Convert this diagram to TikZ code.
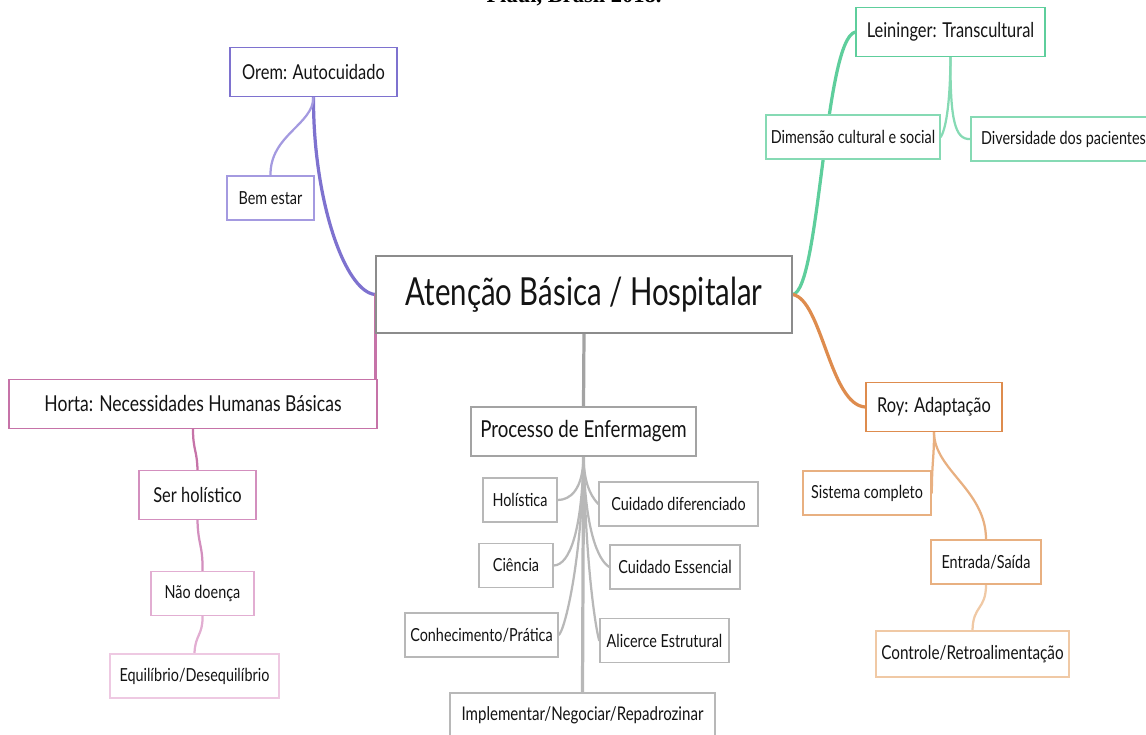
\documentclass[tikz,border=0pt]{standalone}
\usepackage{fontspec}
\setmainfont[FakeStretch=0.8]{Lato}
\newfontfamily\rootfont[FakeStretch=0.76]{Lato}
\newfontfamily\capfont{Liberation Serif}
\usetikzlibrary{backgrounds}

\definecolor{purpA}{HTML}{7E72CF}
\definecolor{purpB}{HTML}{A49AE0}
\definecolor{greenA}{HTML}{5ECE9C}
\definecolor{greenB}{HTML}{86DAB4}
\definecolor{orangeA}{HTML}{DE8C4E}
\definecolor{orangeB}{HTML}{E8B081}
\definecolor{orangeC}{HTML}{F0C9A5}
\definecolor{pinkA}{HTML}{C673A8}
\definecolor{pinkB}{HTML}{D38FBE}
\definecolor{pinkC}{HTML}{E2AED2}
\definecolor{pinkD}{HTML}{EEC9E2}
\definecolor{greyA}{HTML}{8C8C8C}
\definecolor{greyB}{HTML}{A3A3A3}
\definecolor{greyC}{HTML}{B8B8B8}

\tikzset{
  box/.style={draw, fill=white, line width=1.1pt, inner sep=0pt, text=black!92},
  root/.style={box, draw=greyA, font=\rootfont\fontsize{27.5}{30}\selectfont,
    minimum width=10.4cm, minimum height=1.925cm},
  topic/.style={box, font=\fontsize{14.6}{17}\selectfont, minimum height=1.22cm},
  leaf/.style={box, font=\fontsize{12.8}{15}\selectfont, minimum height=1.1cm},
  mainline/.style={line width=2.3pt, line cap=round},
  subline/.style={line width=1.6pt, line cap=round}
}

\begin{document}
\begin{tikzpicture}[x=0.025cm,y=-0.025cm]

  \useasboundingbox (0,0) rectangle (1146,735);

  % caption line cut by the top edge
  \node[anchor=base, font=\capfont\bfseries\fontsize{16}{18}\selectfont] (cap) at (574,3) {Piauí, Brasil 2018.};

  % centre
  \node[root] (cen) at (584,294.5) {Atenção Básica / Hospitalar};

  % Orem
  \node[topic, draw=purpA, minimum width=4.175cm] (orem) at (313.5,72) {Orem: Autocuidado};
  \node[leaf, draw=purpB, minimum width=2.175cm] (bem) at (270.5,198) {Bem estar};

  % Leininger
  \node[topic, draw=greenA, minimum width=4.725cm] (lein) at (950.5,32) {Leininger: Transcultural};
  \node[leaf, draw=greenB, minimum width=4.35cm] (dim) at (853,137) {Dimensão cultural e social};
  \node[leaf, draw=greenB, minimum width=4.625cm] (div) at (1063.5,139) {Diversidade dos pacientes};

  % Horta
  \node[topic, draw=pinkA, minimum width=9.2cm, font=\fontsize{15.6}{18}\selectfont] (horta) at (193,404) {Horta: Necessidades Humanas Básicas};
  \node[topic, draw=pinkB, minimum width=2.925cm] (ser) at (197.5,495) {Ser holístico};
  \node[leaf, draw=pinkC, minimum width=2.575cm] (nao) at (202.5,593.5) {Não doença};
  \node[leaf, draw=pinkD, minimum width=4.225cm] (equ) at (194.5,676) {Equilíbrio/Desequilíbrio};

  % Processo
  \node[topic, draw=greyB, minimum width=5.625cm, font=\fontsize{16.6}{19}\selectfont] (proc) at (583.5,431.5) {Processo de Enfermagem};
  \node[leaf, draw=greyC, minimum width=1.85cm] (hol) at (520,500) {Holística};
  \node[leaf, draw=greyC, minimum width=1.85cm] (cie) at (516,565.5) {Ciência};
  \node[leaf, draw=greyC, minimum width=3.825cm] (con) at (481.5,635) {Conhecimento/Prática};
  \node[leaf, draw=greyC, minimum width=3.975cm] (cdif) at (678.5,504) {Cuidado diferenciado};
  \node[leaf, draw=greyC, minimum width=3.25cm] (cess) at (675,567) {Cuidado Essencial};
  \node[leaf, draw=greyC, minimum width=3.225cm] (alic) at (664.5,640.5) {Alicerce Estrutural};
  \node[leaf, draw=greyC, minimum width=6.625cm, font=\fontsize{13.4}{16}\selectfont] (impl) at (582.5,715) {Implementar/Negociar/Repadrozinar};

  % Roy
  \node[topic, draw=orangeA, minimum width=3.4cm] (roy) at (934,407) {Roy: Adaptação};
  \node[leaf, draw=orangeB, minimum width=3.2cm] (sis) at (867,493) {Sistema completo};
  \node[leaf, draw=orangeB, minimum width=2.75cm] (ent) at (986,562) {Entrada/Saída};
  \node[leaf, draw=orangeC, minimum width=4.825cm, minimum height=1.15cm, font=\fontsize{13.6}{16}\selectfont] (ctrl) at (972.5,654) {Controle/Retroalimentação};

  \begin{pgfonlayer}{background}
    \draw[mainline, purpA] (cen.west) .. controls (345,292) and (313,200) .. (orem.south);
    \draw[subline, purpB] (orem.south) .. controls (313,125) and (270,135) .. (bem.north);

    \draw[mainline, greenA] (cen.east) .. controls (820,290) and (824,40) .. (lein.west);
    \draw[subline, greenB] (lein.south) .. controls (950,110) and (945,130) .. (dim.east);
    \draw[subline, greenB] (lein.south) .. controls (950,120) and (955,140) .. (div.west);

    \draw[mainline, orangeA] (cen.east) .. controls (822,300) and (830,405) .. (roy.west);
    \draw[subline, orangeB] (roy.south) .. controls (934,460) and (932,460) .. (sis.east);
    \draw[subline, orangeB] (roy.south) .. controls (934,470) and (986,490) .. (ent.north);
    \draw[subline, orangeC] (ent.south) .. controls (986,610) and (973,605) .. (ctrl.north);

    \draw[mainline, pinkA] (cen.west) -- (cen.west |- horta.north);
    \draw[subline, pinkA] (horta.south) .. controls (193,450) and (197,450) .. (ser.north);
    \draw[subline, pinkB] (ser.south) .. controls (198,545) and (203,545) .. (nao.north);
    \draw[subline, pinkC] (nao.south) .. controls (203,635) and (195,635) .. (equ.north);

    \draw[mainline, greyB] (cen.south) -- (proc.north);
    \draw[mainline, greyC] (proc.south) -- (impl.north);
    \draw[subline, greyC] (proc.south) .. controls (583,490) and (570,500) .. (hol.east);
    \draw[subline, greyC] (proc.south) .. controls (582,530) and (570,565) .. (cie.east);
    \draw[subline, greyC] (proc.south) .. controls (582,560) and (565,630) .. (con.east);
    \draw[subline, greyC] (proc.south) .. controls (584,490) and (595,500) .. (cdif.west);
    \draw[subline, greyC] (proc.south) .. controls (585,530) and (598,560) .. (cess.west);
    \draw[subline, greyC] (proc.south) .. controls (586,570) and (596,630) .. (alic.west);
  \end{pgfonlayer}

\end{tikzpicture}
\end{document}
